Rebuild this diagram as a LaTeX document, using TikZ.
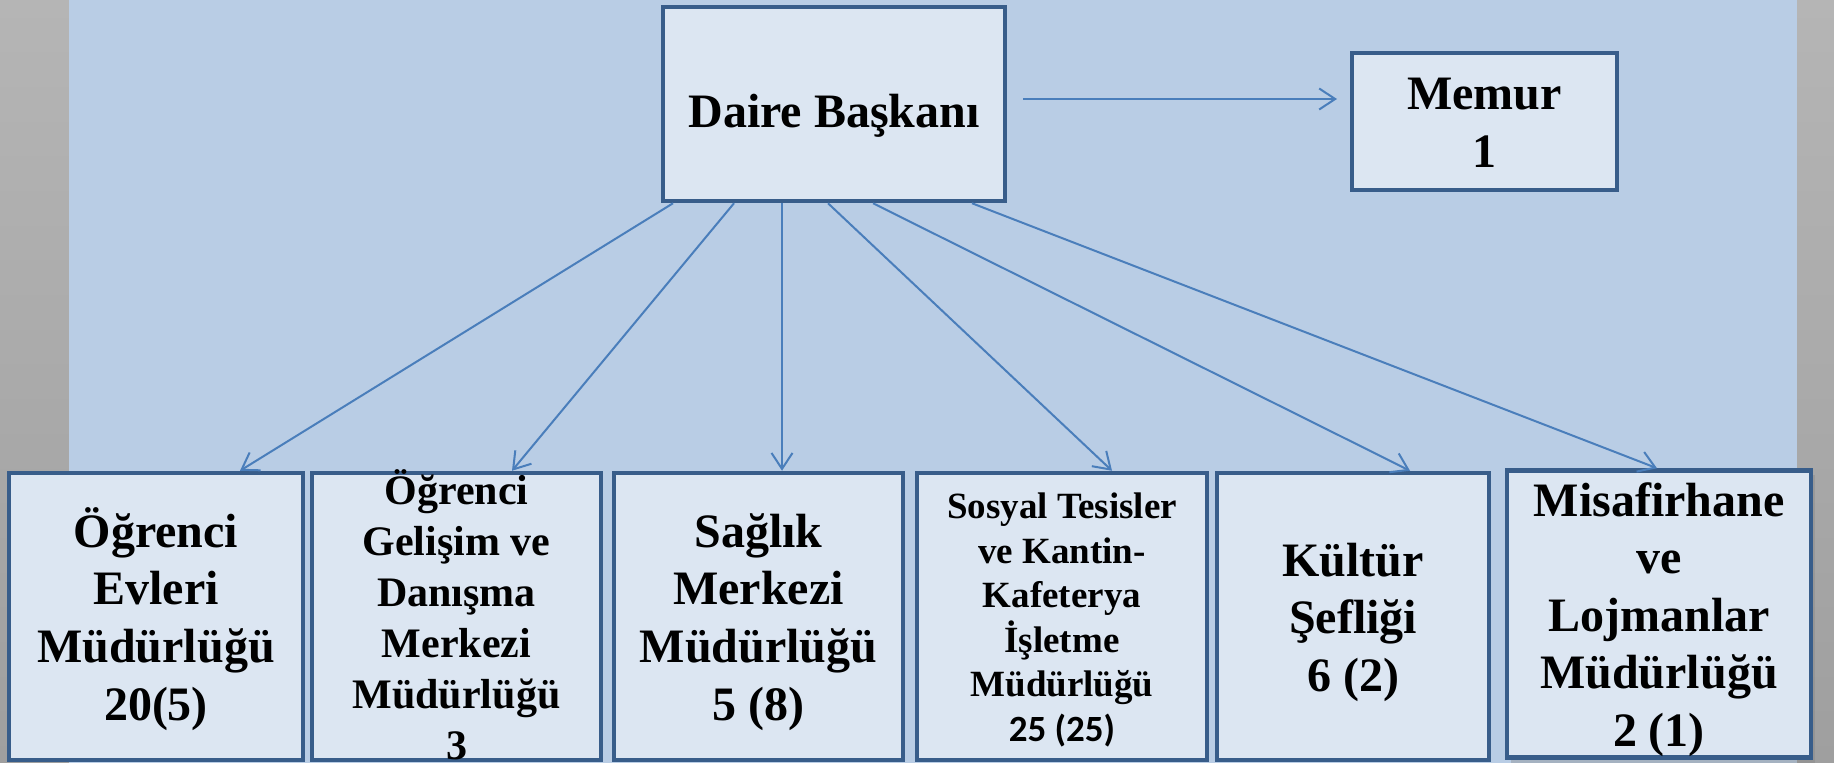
\documentclass[tikz,border=0pt]{standalone}
\usepackage{fontspec}
\setmainfont{Liberation Serif}
\newfontfamily\carlitofont{Carlito}
\usetikzlibrary{positioning}
\usetikzlibrary{arrows.meta}
\usetikzlibrary{shadows}

\definecolor{slidegrayA}{HTML}{B5B5B5}
\definecolor{slidegrayB}{HTML}{9F9F9F}
\definecolor{panelblue}{HTML}{B9CDE5}
\definecolor{unitfill}{HTML}{DCE6F2}
\definecolor{unitline}{HTML}{385D8A}
\definecolor{linkblue}{HTML}{4A7EBB}

% strut for the first line of a unit text
\newcommand{\ustrut}[1][0.95em]{\rule[-0.23em]{0pt}{\dimexpr #1+0.23em\relax}}

\tikzset{
    unittext/.style={align=center, inner sep=0pt, font=\bfseries\fontsize{48}{57.6}\selectfont,
        execute at end node={\ustrut}},
    unit/.style={unittext, draw=unitline, fill=unitfill, line width=4.5pt},
    link/.style={draw=linkblue, line width=2pt}
}

\begin{document}
\begin{tikzpicture}[x=1pt, y=-1pt, >={Straight Barb[length=16pt,width=21pt]}]
    % slide background
    \useasboundingbox (0,0) rectangle (1834,763);
    \shade[top color=slidegrayA, bottom color=slidegrayB] (0,0) rectangle (1834,763);
    \fill[panelblue] (69,0) rectangle (1797,763);
    % set up the nodes
    \node[unit, minimum width=342pt, minimum height=194pt] (DB) at (834,104) {\ustrut[1.2em]Daire Başkanı};
    \node[unit, minimum width=265pt, minimum height=137pt, right=342.5pt of DB, yshift=-17.5pt] (Mem) {\ustrut Memur\\1};
    \node[unit, minimum width=294pt, minimum height=287pt] (U1) at (156,616.5) {\ustrut Öğrenci\\Evleri\\Müdürlüğü\\20(5)};
    \node[unit, minimum width=289pt, minimum height=287pt, right=4.5pt of U1] (U2) {};
    \node[unittext, font=\bfseries\fontsize{42}{51}\selectfont] (U2txt) at (U2) {\ustrut Öğrenci\\Gelişim ve\\Danışma\\Merkezi\\Müdürlüğü\\3};
    \node[unit, minimum width=289pt, minimum height=287pt, right=8.5pt of U2] (U3) {\ustrut Sağlık\\Merkezi\\Müdürlüğü\\5 (8)};
    \node[unit, minimum width=290pt, minimum height=287pt, right=9.5pt of U3,
        font=\bfseries\fontsize{37}{44.5}\selectfont] (U4) {\ustrut Sosyal Tesisler\\ve Kantin-\\Kafeterya\\İşletme\\Müdürlüğü\\{\carlitofont 25 (25)}};
    \node[unit, minimum width=272pt, minimum height=287pt, right=5.5pt of U4] (U5) {\ustrut Kültür\\Şefliği\\6 (2)};
    \node[unit, minimum width=304pt, minimum height=286pt, right=13.5pt of U5, yshift=2.5pt,
        drop shadow={shadow xshift=4pt, shadow yshift=-5pt, opacity=0.35}] (U6) {\ustrut Misafirhane\\ve\\Lojmanlar\\Müdürlüğü\\2 (1)};
    % draw arrows between them
    \draw[link, ->, shorten <=16pt, shorten >=12.75pt] ([yshift=5pt]DB.east) -- ([yshift=22.5pt]Mem.west);
    \draw[link, ->] ([xshift=-161pt]DB.south) -- ([xshift=84pt]U1.north);
    \draw[link, ->] ([xshift=-100pt]DB.south) -- ([xshift=55.5pt]U2.north);
    \draw[link, ->] ([xshift=-52pt]DB.south) -- ([xshift=23.5pt]U3.north);
    \draw[link, ->] ([xshift=-6pt]DB.south) -- ([xshift=50pt]U4.north);
    \draw[link, ->] ([xshift=39pt]DB.south) -- ([xshift=57pt]U5.north);
    \draw[link, ->] ([xshift=138pt]DB.south) -- ([xshift=-2pt]U6.north);
\end{tikzpicture}
\end{document}
